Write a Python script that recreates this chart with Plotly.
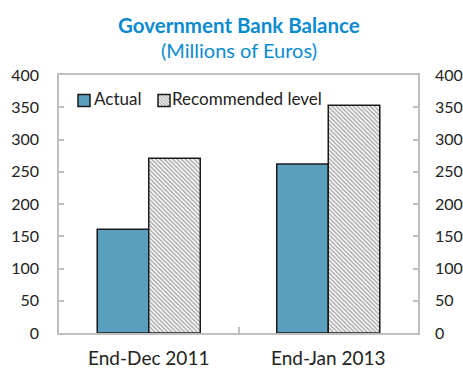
import plotly.graph_objects as go

categories = ["End-Dec 2011", "End-Jan 2013"]
actual = [161, 262]
recommended = [271, 353]
series_names = ["Actual", "Recommended level"]
y_ticks = [0, 50, 100, 150, 200, 250, 300, 350, 400]

FONT = "Lato, Calibri, sans-serif"
AXIS_GREY = "#bfbfbf"
TITLE_BLUE = "#0a8bd0"
W, H = 463, 373
ML, MR, MT, MB = 59, 45, 75, 40
PW, PH = W - ML - MR, H - MT - MB

fig = go.Figure()
fig.add_trace(go.Bar(
    x=categories, y=actual, name="",
    marker=dict(color="#5a9fbd", line=dict(color="#1a1a1a", width=1.5)),
))
fig.add_trace(go.Bar(
    x=categories, y=recommended, name=" ",
    marker=dict(color="white", line=dict(color="#1a1a1a", width=1.5),
                pattern=dict(shape="\\", fgcolor="#555555", bgcolor="white",
                             size=3, solidity=0.5)),
))
# invisible trace to carry the right-hand axis
fig.add_trace(go.Scatter(x=categories, y=actual, yaxis="y2", mode="markers",
                         marker=dict(opacity=0), showlegend=False, hoverinfo="skip"))

axis_common = dict(range=[0, 400], tickvals=y_ticks, showgrid=False, zeroline=False,
                   showline=True, linecolor=AXIS_GREY, linewidth=1.5, automargin=False,
                   ticks="inside", ticklen=5, tickcolor=AXIS_GREY, tickwidth=1.5,
                   tickfont=dict(family=FONT, size=16, color="#222"))


def px_x(px):
    return (px - ML) / PW


def px_y(py):
    return (H - MB - py) / PH


fig.update_layout(
    width=W, height=H,
    margin=dict(l=ML, r=MR, t=MT, b=MB),
    paper_bgcolor="white", plot_bgcolor="white",
    barmode="group", bargap=0.426, bargroupgap=0,
    font=dict(family=FONT, color="#222"),
    xaxis=dict(showline=True, mirror=True, linecolor=AXIS_GREY, linewidth=1.5,
               ticks="inside", tickson="boundaries", ticklen=6, tickcolor=AXIS_GREY,
               tickwidth=1.5, tickfont=dict(family=FONT, size=19, color="#222"),
               ticklabelstandoff=7, showgrid=False, zeroline=False, automargin=False),
    yaxis=dict(side="left", ticklabelstandoff=15, **axis_common),
    yaxis2=dict(side="right", overlaying="y", ticklabelstandoff=12, **axis_common),
    legend=dict(orientation="h", x=px_x(64), y=px_y(83), xanchor="left", yanchor="top",
                bgcolor="rgba(0,0,0,0)", font=dict(family=FONT, size=17, color="#222"),
                itemwidth=30, entrywidth=35, entrywidthmode="pixels", tracegroupgap=0),
    showlegend=True,
    annotations=[
        dict(text="<b>Government Bank Balance</b>", xref="paper", yref="paper",
             x=0.5, y=px_y(25), yanchor="middle",
             showarrow=False, font=dict(family=FONT, size=20.5, color=TITLE_BLUE)),
        dict(text="(Millions of Euros)", xref="paper", yref="paper",
             x=0.5, y=px_y(50), yanchor="middle",
             showarrow=False, font=dict(family=FONT, size=20, color=TITLE_BLUE)),
        dict(text=series_names[0], xref="paper", yref="paper",
             x=px_x(92), y=px_y(98), xanchor="left", yanchor="middle",
             showarrow=False, font=dict(family=FONT, size=17, color="#222")),
        dict(text=series_names[1], xref="paper", yref="paper",
             x=px_x(170), y=px_y(98), xanchor="left", yanchor="middle",
             showarrow=False, font=dict(family=FONT, size=17, color="#222")),
    ],
)

fig.write_html("out.html")
